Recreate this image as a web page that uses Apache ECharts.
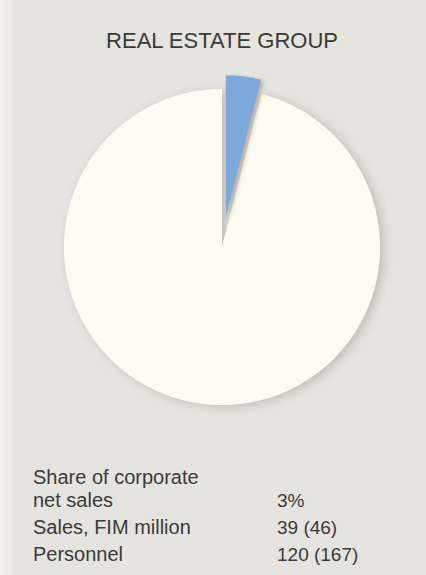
<!DOCTYPE html>
<html>
<head>
<meta charset="utf-8">
<script src="https://cdn.jsdelivr.net/npm/echarts@6/dist/echarts.min.js"></script>
<style>
html,body{margin:0;padding:0;background:#e6e4de;}
#c{width:426px;height:575px;}
</style>
</head>
<body>
<div id="c"></div>
<script>
// Data
const title = "REAL ESTATE GROUP";
const sliceNames = ["Real Estate Group", "Other groups"];
const sliceValues = [4, 96]; // share as drawn in the pie (labelled 3%)
const statLabels = ["Share of corporate\nnet sales", "Sales, FIM million", "Personnel"];
const statValues = ["3%", "39 (46)", "120 (167)"];

const chart = echarts.init(document.getElementById('c'), null, {renderer: 'svg'});

const textColor = '#3a3a38';
const fontFam = '"Liberation Sans", Arial, Helvetica, sans-serif';

const whiteData = sliceNames.map((n, i) => ({
  name: n, value: sliceValues[i],
  itemStyle: i === 0 ? {color: 'rgba(0,0,0,0)', shadowBlur: 0, shadowColor: 'rgba(0,0,0,0)'} : {color: '#fdfcf2'}
}));
const blueData = sliceNames.map((n, i) => ({
  name: n, value: sliceValues[i], selected: i === 0,
  itemStyle: i === 0 ? {color: '#7ea8da'} : {color: 'rgba(0,0,0,0)', shadowBlur: 0, shadowColor: 'rgba(0,0,0,0)'}
}));

function txt(s, x, y, size, align) {
  return {
    type: 'text', x: x, y: y,
    style: {text: s, fill: textColor, font: size + 'px ' + fontFam,
            align: align || 'left', textAlign: align || 'left',
            verticalAlign: 'middle', textVerticalAlign: 'middle'}
  };
}

// text line rows (middle y): wrapped lines are tighter than separate rows
const lineStep = 23;
const rowStep = 27;
const firstRowY = 477;
const graphics = [
  {type: 'rect', shape: {x: 0, y: 0, width: 16, height: 575}, silent: true,
   style: {fill: new echarts.graphic.LinearGradient(0, 0, 1, 0, [
     {offset: 0, color: 'rgba(246,245,241,0.9)'},
     {offset: 1, color: 'rgba(246,245,241,0)'}
   ])}},
  txt(title, 222, 40, 22, 'center')
];
let y = firstRowY;
statLabels.forEach((t, i) => {
  const lines = t.split('\n');
  lines.forEach((ln, j) => {
    if (j > 0) y += lineStep;
    graphics.push(txt(ln, 33, y, 20));
  });
  graphics.push(txt(statValues[i], 277, y, 19));
  y += rowStep;
});

chart.setOption({
  backgroundColor: '#e6e4de',
  animation: false,
  series: [
    {
      type: 'pie', center: [222, 247], radius: 158, startAngle: 90, clockwise: true,
      label: {show: false}, labelLine: {show: false}, silent: true,
      itemStyle: {borderWidth: 0, shadowBlur: 10, shadowOffsetX: 4, shadowOffsetY: 2, shadowColor: 'rgba(60,50,40,0.22)'},
      data: whiteData
    },
    {
      type: 'pie', center: [222, 247], radius: 142, startAngle: 90, clockwise: true,
      selectedMode: 'single', selectedOffset: 30,
      label: {show: false}, labelLine: {show: false}, silent: true,
      itemStyle: {borderWidth: 0, shadowBlur: 4, shadowOffsetX: 3, shadowOffsetY: 2, shadowColor: 'rgba(80,60,40,0.3)'},
      data: blueData
    }
  ],
  graphic: graphics
});
</script>
</body>
</html>
